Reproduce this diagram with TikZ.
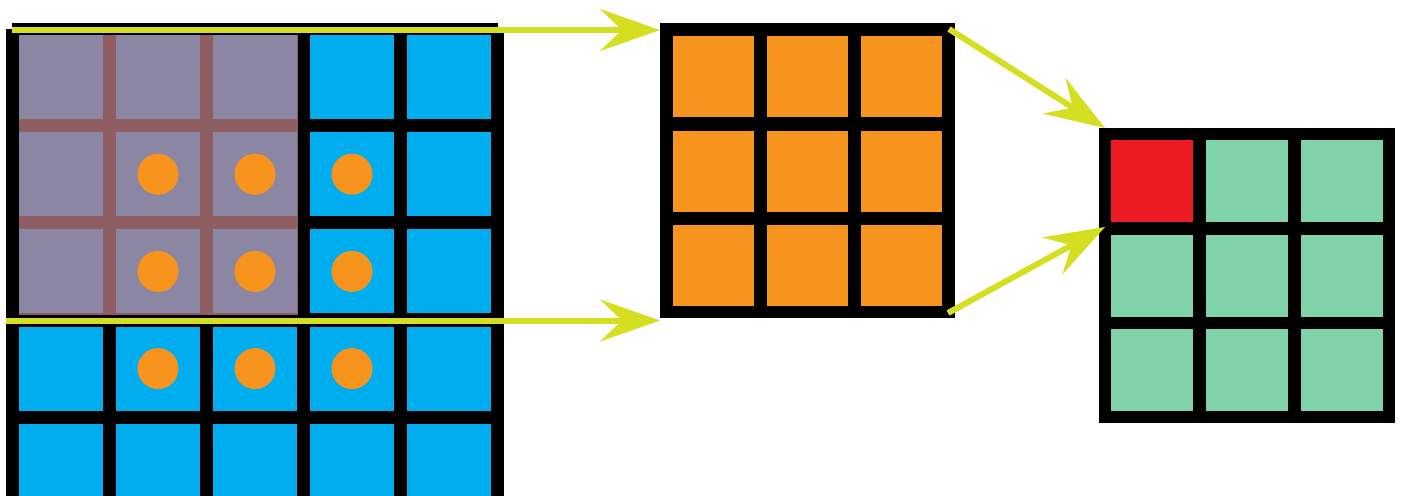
\documentclass[tikz,border=0pt]{standalone}
\usetikzlibrary{arrows.meta,calc}
\definecolor{cblue}{HTML}{00AEEF}
\definecolor{corange}{HTML}{F7941D}
\definecolor{cgrey}{HTML}{8B87A3}
\definecolor{cbrown}{HTML}{8F5E63}
\definecolor{cyellow}{HTML}{D5DF21}
\definecolor{cred}{HTML}{ED1C24}
\definecolor{cgreen}{HTML}{80D2A9}
\begin{document}
\begin{tikzpicture}[x=0.5pt,y=-0.5pt,
  frame/.style={fill=black,draw=none,inner sep=0pt,outer sep=0pt},
  yarrow/.style={draw=cyellow,line width=3pt,-{Stealth[length=30pt,width=21pt,inset=11pt]}},
  dot/.style={fill=corange}
]
\useasboundingbox (0,0) rectangle (1402,495);
\begin{scope}
\clip (0,0) rectangle (1402,495);
% ---- input grid (5x5, cropped at the bottom)
\node[frame,minimum width=249pt,minimum height=235.5pt] (in) at (255,264.5) {};
\fill[black] (12,23) rectangle (498,35);
\foreach \i in {0,...,4}
  \foreach \j in {0,...,4}
    \fill[cblue] ($(in.north west)+({13+97*\i},{6+97.2*\j})$) rectangle ++(84,84);
% ---- grey overlay (receptive field)
\fill[cbrown] ($(in.north west)+(13,6)$) rectangle ++(279,280);
\foreach \i in {0,...,2}
  \foreach \j in {0,...,2}
    \fill[cgrey] ($(in.north west)+({13+97*\i},{6+97.2*\j})$) rectangle ++(84,84);
% ---- dots
\foreach \i in {1,...,3}
  \foreach \j in {1,...,3}
    \fill[dot] ($(in.north west)+({55+97*\i},{48+97.2*\j})$) circle[radius=10.25pt];
% ---- kernel grid (3x3 orange)
\node[frame,minimum width=147.5pt,minimum height=147.5pt] (mid) at (807.5,170.5) {};
\foreach \i in {0,...,2}
  \foreach \j in {0,...,2}
    \fill[corange] ($(mid.north west)+({13+94*\i},{13+94.5*\j})$) rectangle ++(81,81);
% ---- output grid (3x3 green, one red)
\node[frame,minimum width=148pt,minimum height=147.5pt] (out) at (1247,275.5) {};
\foreach \i in {0,...,2}
  \foreach \j in {0,...,2}
    \fill[cgreen] ($(out.north west)+({12+95*\i},{12+94.5*\j})$) rectangle ++(82,82);
\fill[cred] ($(out.north west)+(12,12)$) rectangle ++(82,82);
% ---- connectors
\coordinate (t1) at (12,30);
\coordinate (t2) at (6,320.5);
\coordinate (d1s) at (949,29);
\coordinate (d1e) at (1105,128);
\coordinate (d2s) at (948,313);
\coordinate (d2e) at (1105,227);
\draw[yarrow] (t1) -- (t1 -| mid.west);
\draw[yarrow] (t2) -- (t2 -| mid.west);
\draw[yarrow] (d1s) -- (d1e);
\draw[yarrow] (d2s) -- (d2e);
\end{scope}
\end{tikzpicture}
\end{document}
